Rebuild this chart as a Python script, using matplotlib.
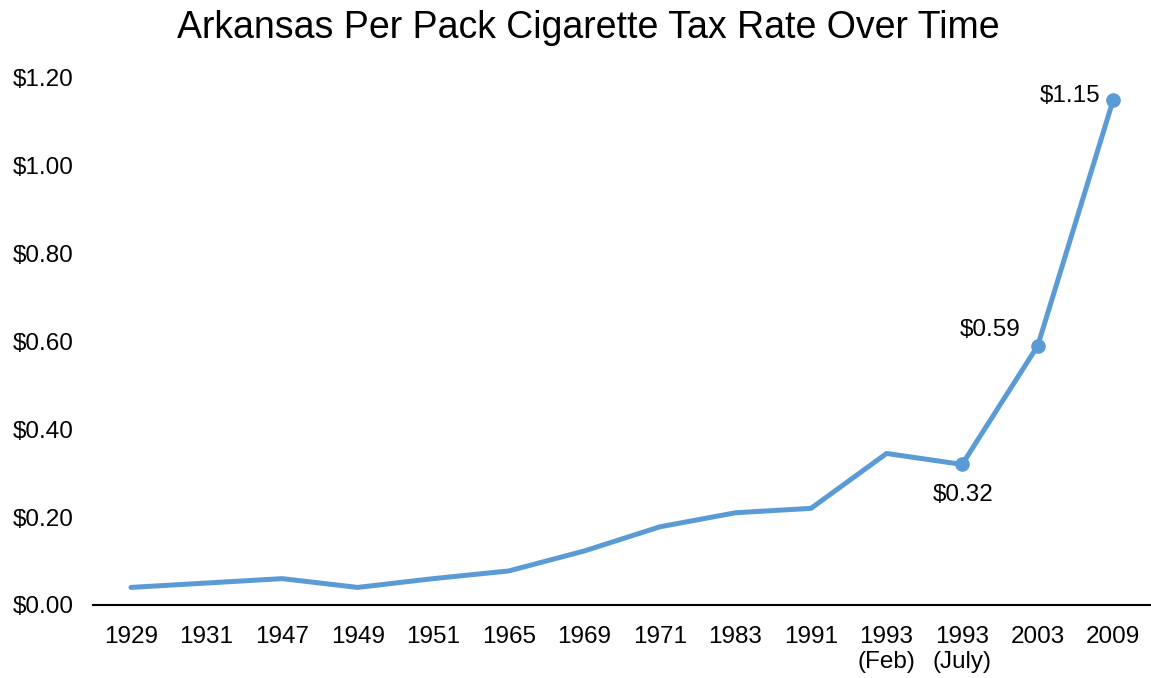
import matplotlib.pyplot as plt

years = ["1929", "1931", "1947", "1949", "1951", "1965", "1969", "1971",
         "1983", "1991", "1993\n(Feb)", "1993\n(July)", "2003", "2009"]
rates = [0.04, 0.05, 0.06, 0.04, 0.06, 0.0775, 0.123, 0.178, 0.21, 0.22,
         0.345, 0.32, 0.59, 1.15]
yticks = [0.0, 0.2, 0.4, 0.6, 0.8, 1.0, 1.2]

# points that get a marker + value label, with label offsets in points
labelled = {11: (1, -22), 12: (-34, 11.5), 13: (-31, 2.5)}

plt.rcParams['font.family'] = ['Liberation Sans', 'DejaVu Sans']
blue = "#5B9BD5"

fig = plt.figure(figsize=(11.51, 6.78), dpi=100)
ax = fig.add_axes([0.081, 0.1077, 0.919, 0.7773])

x = list(range(len(years)))
ax.plot(x, rates, color=blue, linewidth=3.6, solid_capstyle="round",
        solid_joinstyle="round")
idx = sorted(labelled)
ax.plot(idx, [rates[i] for i in idx], "o", color=blue, markersize=9.5)
for i, (dx, dy) in labelled.items():
    ax.annotate(f"${rates[i]:.2f}", (i, rates[i]), xytext=(dx, dy),
                textcoords="offset points", ha="center", va="center",
                fontsize=17.5)

ax.set_xlim(-0.5, len(years) - 0.5)
ax.set_ylim(0, 1.2)
ax.set_xticks(x)
ax.set_xticklabels(years, fontsize=17.5, linespacing=1.2, va="top")
ax.set_yticks(yticks)
ax.set_yticklabels([f"${v:.2f}" for v in yticks], fontsize=17.5)
ax.tick_params(length=0, pad=15)
ax.tick_params(axis="y", pad=14)

for side in ["top", "right", "left"]:
    ax.spines[side].set_visible(False)
ax.spines["bottom"].set_linewidth(1.5)

fig.suptitle("Arkansas Per Pack Cigarette Tax Rate Over Time", fontsize=27,
             x=0.511, y=0.985)

fig.savefig("out.png", dpi=100)
